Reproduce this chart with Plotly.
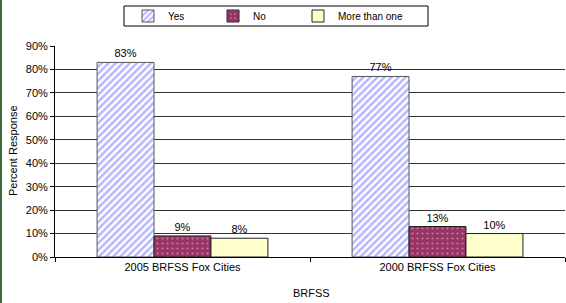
import plotly.graph_objects as go

categories = ["2005 BRFSS Fox Cities", "2000 BRFSS Fox Cities"]
yes_vals = [0.83, 0.77]
no_vals = [0.09, 0.13]
more_vals = [0.08, 0.10]
series_names = ["Yes", "No", "More than one"]
y_ticks = [0, 0.1, 0.2, 0.3, 0.4, 0.5, 0.6, 0.7, 0.8, 0.9]
y_tick_labels = ["0%", "10%", "20%", "30%", "40%", "50%", "60%", "70%", "80%", "90%"]

W, H = 566, 303
ml, mr, mt, mb = 55, 1, 46, 46
pw, ph = W - ml - mr, H - mt - mb

def px_x(p):
    return (p - ml) / pw

def px_y(p):
    return 1 - (p - mt) / ph

font = dict(family="Liberation Sans, Arial, sans-serif", size=11, color="#000")
lfont = dict(family="Liberation Sans, Arial, sans-serif", size=10, color="#000")

fig = go.Figure()
fig.add_bar(
    name=series_names[0], x=categories, y=yes_vals, legend="legend",
    marker=dict(color="white", line=dict(color="#555", width=1),
                pattern=dict(shape="/", fgcolor="#7070FF", bgcolor="white", size=5, solidity=0.5)),
    texttemplate="%{y:.0%}", textposition="outside", textfont=font, cliponaxis=False,
)
fig.add_bar(
    name=series_names[1], x=categories, y=no_vals, legend="legend2",
    marker=dict(color="#993366", line=dict(color="#222", width=1),
                pattern=dict(shape=".", fgcolor="#E8C8D8", bgcolor="#993366", size=5, solidity=0.15)),
    texttemplate="%{y:.0%}", textposition="outside", textfont=font, cliponaxis=False,
)
fig.add_bar(
    name=series_names[2], x=categories, y=more_vals, legend="legend3",
    marker=dict(color="#FFFFCC", line=dict(color="#222", width=1)),
    texttemplate="%{y:.0%}", textposition="outside", textfont=font, cliponaxis=False,
)

def leg(xpix):
    return dict(orientation="h", x=px_x(xpix), xanchor="left", y=px_y(16), yanchor="middle",
                borderwidth=0, bgcolor="rgba(0,0,0,0)", font=lfont, itemwidth=30)

fig.update_layout(
    width=W, height=H,
    margin=dict(l=ml, r=mr, t=mt, b=mb, autoexpand=False),
    paper_bgcolor="white", plot_bgcolor="white",
    font=font,
    barmode="group", bargap=0.33, bargroupgap=0,
    showlegend=True,
    legend=leg(128), legend2=leg(213), legend3=leg(298),
    xaxis=dict(
        showline=True, linecolor="#000", linewidth=1,
        ticks="outside", ticklen=4, tickcolor="#000", tickson="boundaries",
        tickfont=font, showgrid=False, automargin=False,
    ),
    yaxis=dict(
        range=[0, 0.9], tickvals=y_ticks, ticktext=y_tick_labels,
        showline=True, linecolor="#000", linewidth=1,
        ticks="outside", ticklen=4, tickcolor="#000",
        showgrid=True, gridcolor="#333", gridwidth=1,
        tickfont=font, zeroline=False, automargin=False,
    ),
    annotations=[
        dict(text="Percent Response", xref="paper", yref="paper", x=px_x(13), y=px_y(151),
             textangle=-90, showarrow=False, font=font, xanchor="center", yanchor="middle"),
        dict(text="BRFSS", xref="paper", yref="paper", x=px_x(311), y=px_y(293),
             showarrow=False, font=font, xanchor="center", yanchor="middle"),
    ],
    shapes=[
        dict(type="rect", xref="paper", yref="paper",
             x0=px_x(0), x1=px_x(2), y0=px_y(H), y1=px_y(0),
             fillcolor="#3A6E3A", line=dict(width=0), layer="above"),
        dict(type="rect", xref="paper", yref="paper",
             x0=px_x(124), x1=px_x(428), y0=px_y(26), y1=px_y(6),
             fillcolor="rgba(0,0,0,0)", line=dict(color="#000", width=1), layer="above"),
    ],
)

fig.write_html("out.html", post_script="document.body.style.margin='0';",
               config={"displayModeBar": False})
